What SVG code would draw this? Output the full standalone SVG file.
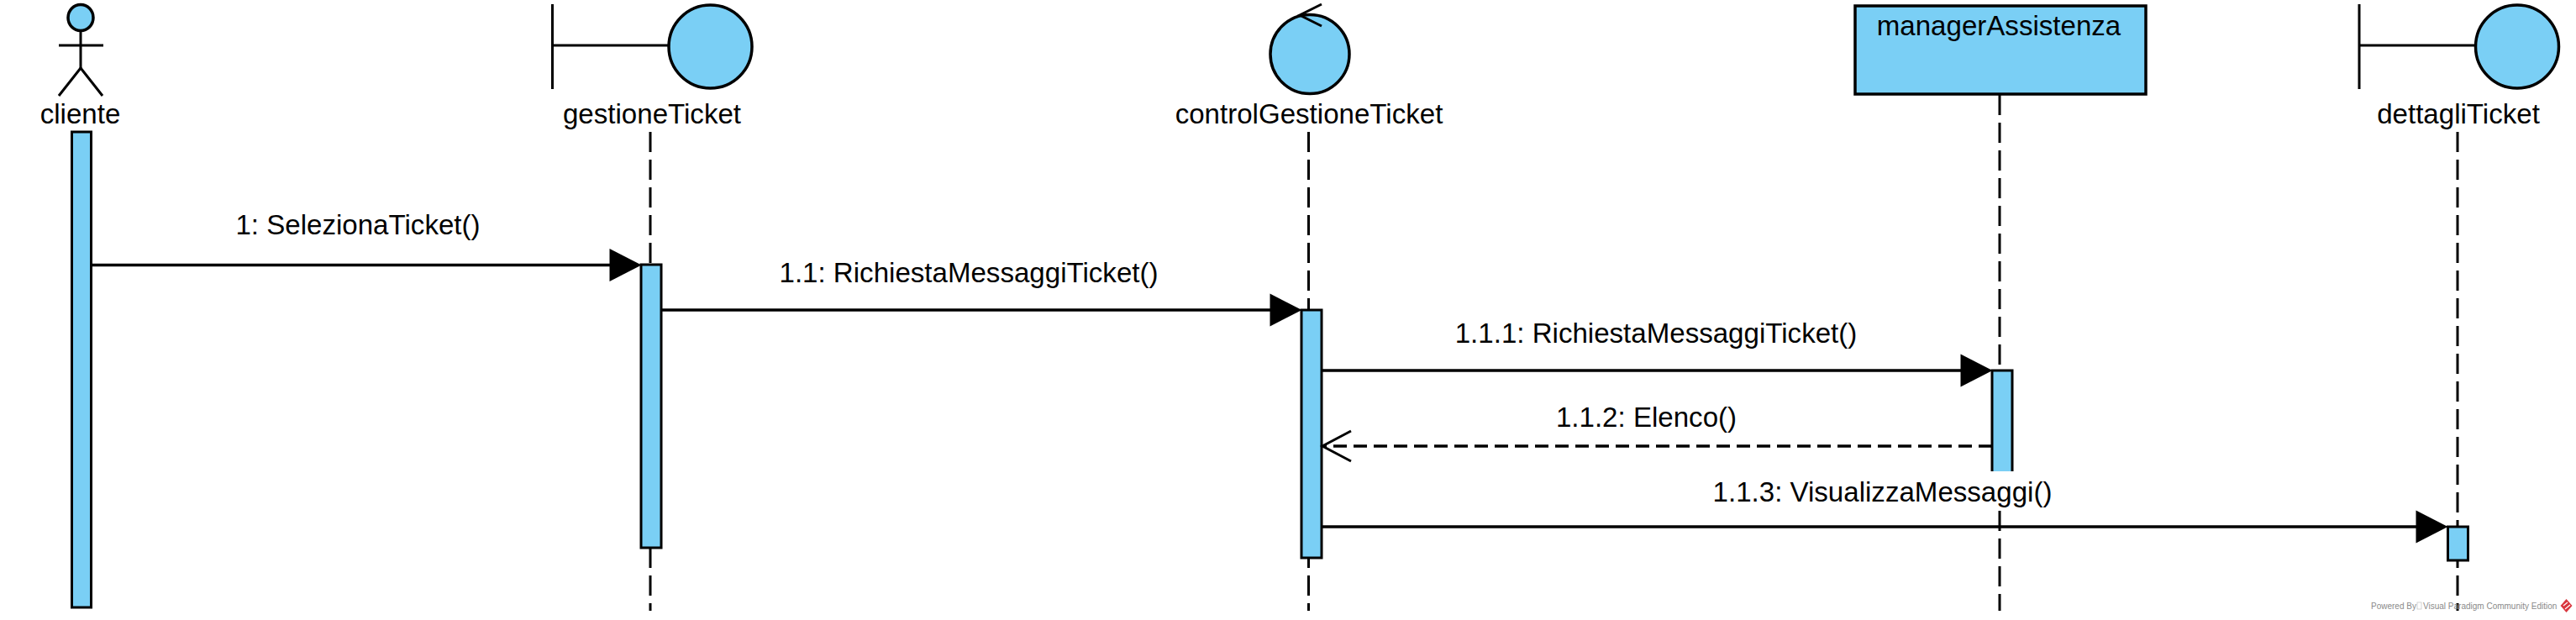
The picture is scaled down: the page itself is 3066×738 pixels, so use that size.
<svg xmlns="http://www.w3.org/2000/svg" width="3066" height="738" viewBox="0 0 3066 738">
<style>
text{font-family:"Liberation Sans",Arial,sans-serif;font-size:33.100px;fill:#000}
.m{text-anchor:middle}
.f{fill:#7ACFF5;stroke:#000;stroke-width:3.5}
.ln{fill:none;stroke:#000;stroke-width:3}
.life{fill:none;stroke:#000;stroke-width:3;stroke-dasharray:24 9}
.act{fill:#7ACFF5;stroke:#000;stroke-width:3}
.msg{fill:none;stroke:#000;stroke-width:3.5}
text.wm{font-size:10px;fill:#8a8a8a}
</style>
<defs>
<polygon id="head" points="0,0 -38,-19.500 -38,19.500" fill="#000"/>
</defs>
<rect width="3066" height="738" fill="#fff"/>
<g id="lifelines">
<path class="life" d="M774 157V727"/>
<path class="life" d="M1557.500 157V727"/>
<path class="life" d="M2380 113V727"/>
<path class="life" d="M2925 157V727"/>
</g>
<g id="cliente">
<ellipse class="f" cx="96" cy="21" rx="15" ry="15.500"/>
<path class="ln" d="M96 37V81M70 54H123"/>
<path class="ln" d="M70 114L96 81L122 114"/>
<text class="m" x="95.500" y="147">cliente</text>
<rect class="act" x="85.500" y="157" width="23" height="566"/>
</g>
<g id="gestioneTicket">
<path class="ln" d="M657.500 5V106M657.500 54H796"/>
<circle class="f" cx="845.500" cy="55.500" r="49.500"/>
<text class="m" x="776" y="147">gestioneTicket</text>
<rect class="act" x="763" y="315" width="24" height="337"/>
</g>
<g id="controlGestioneTicket">
<ellipse class="f" cx="1559" cy="64.500" rx="47" ry="47"/>
<path class="ln" d="M1573 5L1547 18L1573 31"/>
<text class="m" x="1558" y="147">controlGestioneTicket</text>
<rect class="act" x="1549" y="369" width="24" height="295"/>
</g>
<g id="managerAssistenza">
<rect class="f" x="2208" y="7" width="346" height="105"/>
<text class="m" x="2379" y="41.500">managerAssistenza</text>
<rect class="act" x="2371" y="441" width="24" height="140"/>
</g>
<g id="dettagliTicket">
<path class="ln" d="M2808 5V106M2808 54H2946"/>
<circle class="f" cx="2996" cy="55.500" r="49.500"/>
<text class="m" x="2926" y="147">dettagliTicket</text>
<rect class="act" x="2913.500" y="627" width="24" height="40"/>
</g>
<g id="connectors">
<path class="msg" d="M108 315.500H730"/>
<use href="#head" x="763.500" y="315.500"/>
<path class="msg" d="M787 369H1515"/>
<use href="#head" x="1549.500" y="369"/>
<path class="msg" d="M1573 441H2338"/>
<use href="#head" x="2371.500" y="441"/>
<path class="msg" stroke-dasharray="16 8" d="M2371 531H1575"/>
<path class="ln" d="M1608 513L1574 531L1608 549"/>
<rect x="2040" y="561" width="401" height="46" fill="#fff"/>
<path class="msg" d="M1573 627H2880"/>
<use href="#head" x="2913.500" y="627"/>
</g>
<g id="labels">
<text class="m" x="426" y="279">1: SelezionaTicket()</text>
<text class="m" x="1153" y="336">1.1: RichiestaMessaggiTicket()</text>
<text class="m" x="1971" y="408">1.1.1: RichiestaMessaggiTicket()</text>
<text class="m" x="1959.500" y="507.500">1.1.2: Elenco()</text>
<text class="m" x="2240.500" y="596.500">1.1.3: VisualizzaMessaggi()</text>
</g>
<g id="watermark">
<text class="wm" x="2822" y="725">Powered By</text>
<rect x="2877" y="717" width="5" height="8" fill="none" stroke="#c8c8c8" stroke-width="0.800"/>
<text class="wm" x="2884" y="725">Visual Paradigm Community Edition</text>
<path d="M3054.500 713L3061.500 721L3054.500 729L3047.500 721Z" fill="#d9363e"/>
<path d="M3051 721L3056 717M3053 725L3059 720" stroke="#fff" stroke-width="1.200" fill="none"/>
</g>
</svg>
